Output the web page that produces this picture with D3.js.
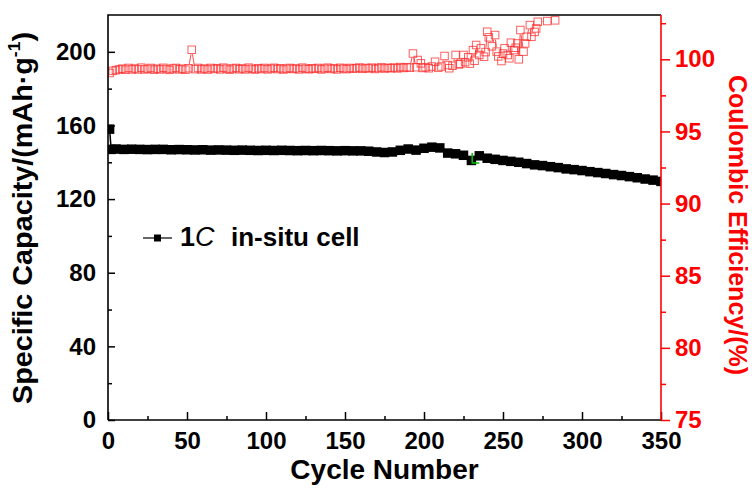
<!DOCTYPE html>
<html>
<head>
<meta charset="utf-8">
<script src="https://cdn.jsdelivr.net/npm/d3@7"></script>
<style>
  body { margin: 0; background: #fff; }
  svg { display: block; font-family: "Liberation Sans", Arial, sans-serif; }
</style>
</head>
<body>
<svg id="chart" width="752" height="488"></svg>
<script>
// capacity series (black, left axis)
var capCycles = [1, 2].concat(d3.range(5, 351, 5));
var capacity = [158, 147,
  147.2, 147.0, 147.1, 147.0, 146.9, 147.0, 147.0, 146.8, 146.9, 146.8,
  146.7, 146.8, 146.6, 146.7, 146.6, 146.5, 146.6, 146.5, 146.4, 146.5,
  146.4, 146.5, 146.4, 146.3, 146.4, 146.3, 146.4, 146.3, 146.2, 146.3,
  146.2, 146.2, 146.0, 145.6, 145.3, 145.6, 146.5, 147.2, 146.6, 147.6,
  148.2, 147.8, 145.0, 144.6, 143.8, 141.0, 143.5, 142.2, 141.6, 141.0,
  140.5, 140.0, 139.3, 138.6, 138.2, 137.6, 137.1, 136.4, 136.0, 135.5,
  134.9, 134.4, 133.9, 133.3, 132.8, 132.2, 131.6, 130.9, 130.3, 129.6];

// coulombic efficiency (red, right axis) - steady part, every 2nd cycle
var ceCyclesEarly = d3.range(1, 190, 2);
var ceEarly = [
  99.05, 99.2, 99.25, 99.3, 99.35, 99.28, 99.4, 99.3, 99.36, 99.3,
  99.42, 99.3, 99.34, 99.4, 99.28, 99.35, 99.3, 99.41, 99.33, 99.27,
  99.36, 99.4, 99.3, 99.35, 99.28, 99.38, 100.66, 99.32, 99.4, 99.3,
  99.36, 99.29, 99.4, 99.33, 99.38, 99.3, 99.42, 99.35, 99.28, 99.36,
  99.4, 99.31, 99.37, 99.3, 99.42, 99.34, 99.29, 99.38, 99.33, 99.4,
  99.3, 99.36, 99.41, 99.32, 99.38, 99.29, 99.35, 99.4, 99.33, 99.37,
  99.3, 99.42, 99.35, 99.31, 99.38, 99.34, 99.4, 99.3, 99.36, 99.42,
  99.33, 99.38, 99.3, 99.41, 99.36, 99.32, 99.4, 99.35, 99.38, 99.43,
  99.34, 99.4, 99.37, 99.42, 99.33, 99.39, 99.44, 99.36, 99.41, 99.38,
  99.43, 99.37, 99.46, 99.4, 99.45];
// scattered part after ~190 cycles
var ceCyclesLate = [191, 193, 195, 196, 198, 199, 201, 203, 205, 207, 209, 211, 213, 215, 216, 218,
  220, 222, 223, 225, 226, 228, 229, 231, 232, 233, 235, 236, 238, 239, 240, 241, 243, 245, 246,
  247, 249, 250, 251, 253, 254, 255, 257, 258, 259, 260, 261, 263, 264, 265, 267, 268, 270, 271,
  272, 278, 283];
var ceLate = [99.42, 100.4, 99.45, 99.95, 99.72, 99.4, 99.45, 99.38, 99.5, 99.83, 99.42, 99.5, 100.23, 99.6, 99.38, 99.55,
  100.3, 99.65, 99.68, 100.3, 99.8, 100.14, 99.7, 100.64, 99.9, 100.99, 100.3, 100.76, 100.18, 100.5, 101.91, 101.52, 100.9, 101.68, 100.53,
  100.2, 99.88, 100.4, 100.76, 100.3, 100.07, 101.15, 100.64, 100.8, 101.1, 100.0, 102.03, 100.53, 101.1, 101.56, 102.37, 101.56, 101.9, 102.14,
  102.6, 102.65, 102.7];

// the odd little green mark near cycle 231
var greenMark = {cycle: 230.5, top: 145, bottom: 139.6, end: 235};

var xTicks = d3.range(0, 351, 50);
var yLeftTicks = [0, 40, 80, 120, 160, 200];
var yRightTicks = [75, 80, 85, 90, 95, 100];

var svg = d3.select("#chart");
var pLeft = 108, pRight = 661, pTop = 15, pBottom = 420;

var x = d3.scaleLinear().domain([0, 350]).range([pLeft, pRight]);
var yL = d3.scaleLinear().domain([0, 220]).range([pBottom, pTop]);
var yR = d3.scaleLinear().domain([75, 103.07]).range([pBottom, pTop]);

svg.append("clipPath").attr("id", "plotclip")
  .append("rect").attr("x", pLeft).attr("y", pTop).attr("width", pRight - pLeft).attr("height", pBottom - pTop);

var plot = svg.append("g").attr("clip-path", "url(#plotclip)");

// red series: lines with a gap at each symbol, then open squares
var cePts = ceCyclesEarly.map(function(c, i){ return [c, ceEarly[i]]; })
  .concat(ceCyclesLate.map(function(c, i){ return [c, ceLate[i]]; }));
var gap = 4.5;
for (var i = 1; i < cePts.length; i++) {
  var x1 = x(cePts[i-1][0]), y1 = yR(cePts[i-1][1]);
  var x2 = x(cePts[i][0]), y2 = yR(cePts[i][1]);
  var dx = x2 - x1, dy = y2 - y1, len = Math.sqrt(dx*dx + dy*dy);
  if (len <= 2*gap) continue;
  plot.append("line")
    .attr("x1", x1 + dx/len*gap).attr("y1", y1 + dy/len*gap)
    .attr("x2", x2 - dx/len*gap).attr("y2", y2 - dy/len*gap)
    .attr("stroke", "#ff0000").attr("stroke-width", 1).attr("opacity", 0.7);
}
var sq = 7.5;
plot.selectAll("rect.ce").data(cePts).enter().append("rect")
  .attr("class", "ce")
  .attr("x", function(d){ return x(d[0]) - sq/2; })
  .attr("y", function(d){ return yR(d[1]) - sq/2; })
  .attr("width", sq).attr("height", sq)
  .attr("fill", "none").attr("stroke", "#ff2a2a").attr("stroke-width", 1).attr("opacity", 0.75);

// black series
var capPts = capCycles.map(function(c, i){ return [c, capacity[i]]; });
plot.append("path").datum(capPts)
  .attr("d", d3.line().x(function(d){ return x(d[0]); }).y(function(d){ return yL(d[1]); }))
  .attr("fill", "none").attr("stroke", "#000").attr("stroke-width", 1.5);
var bs = 9.5;
plot.selectAll("rect.cap").data(capPts).enter().append("rect")
  .attr("class", "cap")
  .attr("x", function(d){ return x(d[0]) - bs/2; })
  .attr("y", function(d){ return yL(d[1]) - bs/2; })
  .attr("width", bs).attr("height", bs)
  .attr("fill", "#000");

plot.append("path")
  .attr("d", "M" + x(greenMark.cycle) + "," + yL(greenMark.top) + "V" + yL(greenMark.bottom) + "H" + x(greenMark.end))
  .attr("fill", "none").attr("stroke", "#00c000").attr("stroke-width", 1.5);

// axes
function styleAxis(g, color, size) {
  g.select(".domain").remove();
  g.selectAll("line").attr("stroke", color).attr("stroke-width", 1.5);
  g.selectAll("text").attr("fill", color).attr("font-size", size).attr("font-weight", "bold");
}

svg.append("g").attr("transform", "translate(0," + pBottom + ")")
  .call(d3.axisBottom(x).tickValues(d3.range(25, 350, 50)).tickSize(-4).tickFormat(""))
  .call(styleAxis, "#000", 24);
svg.append("g").attr("transform", "translate(0," + pBottom + ")")
  .call(d3.axisBottom(x).tickValues(xTicks).tickSize(-8).tickPadding(12).tickFormat(d3.format("d")))
  .call(styleAxis, "#000", 24);

svg.append("g").attr("transform", "translate(" + pLeft + ",0)")
  .call(d3.axisLeft(yL).tickValues(d3.range(20, 220, 40)).tickSize(-4).tickFormat(""))
  .call(styleAxis, "#000", 24);
svg.append("g").attr("transform", "translate(" + pLeft + ",0)")
  .call(d3.axisLeft(yL).tickValues(yLeftTicks).tickSize(-7).tickPadding(12).tickFormat(d3.format("d")))
  .call(styleAxis, "#000", 24);

svg.append("g").attr("transform", "translate(" + pRight + ",0)")
  .call(d3.axisRight(yR).tickValues([77.5, 82.5, 87.5, 92.5, 97.5, 102.5]).tickSize(5).tickFormat(""))
  .call(styleAxis, "#ff0000", 24);
svg.append("g").attr("transform", "translate(" + pRight + ",0)")
  .call(d3.axisRight(yR).tickValues(yRightTicks).tickSize(9).tickPadding(5).tickFormat(d3.format("d")))
  .call(styleAxis, "#ff0000", 24);

// frame
svg.append("path").attr("d", "M" + pLeft + "," + pBottom + "V" + pTop + "H" + pRight)
  .attr("fill", "none").attr("stroke", "#000").attr("stroke-width", 1.6);
svg.append("line").attr("x1", pLeft).attr("x2", pRight).attr("y1", pBottom).attr("y2", pBottom)
  .attr("stroke", "#000").attr("stroke-width", 1.6);
svg.append("line").attr("x1", pRight).attr("x2", pRight).attr("y1", pTop).attr("y2", pBottom)
  .attr("stroke", "#ff0000").attr("stroke-width", 1.6);

// titles
svg.append("text").attr("x", (pLeft + pRight) / 2).attr("y", 479)
  .attr("text-anchor", "middle").attr("font-size", 28).attr("font-weight", "bold")
  .text("Cycle Number");

// left title is a bit stretched in the original, so force its length
var lt = svg.append("text").attr("transform", "translate(32,218) rotate(-90)")
  .attr("text-anchor", "middle").attr("font-size", 28).attr("font-weight", "bold")
  .attr("textLength", 372).attr("lengthAdjust", "spacingAndGlyphs");
lt.append("tspan").text("Specific Capacity/(mAh\u00b7g");
lt.append("tspan").attr("font-size", 17).attr("dy", -12).text("-1");
lt.append("tspan").attr("dy", 12).text(")");

svg.append("text").attr("transform", "translate(729,225) rotate(90)")
  .attr("text-anchor", "middle").attr("font-size", 25).attr("font-weight", "bold").attr("fill", "#ff0000")
  .text("Coulombic Efficiency/(%)");

// legend
svg.append("line").attr("x1", 143).attr("x2", 172).attr("y1", 238).attr("y2", 238)
  .attr("stroke", "#000").attr("stroke-width", 1.2);
svg.append("rect").attr("x", 154).attr("y", 234.5).attr("width", 7).attr("height", 7).attr("fill", "#000");
var lg = svg.append("text").attr("x", 180).attr("y", 246).attr("font-size", 27).attr("font-weight", "bold");
lg.append("tspan").text("1");
lg.append("tspan").attr("font-style", "italic").attr("font-weight", "normal").text("C");
lg.append("tspan").attr("x", 231).attr("font-size", 26).text("in-situ cell");
</script>
</body>
</html>
